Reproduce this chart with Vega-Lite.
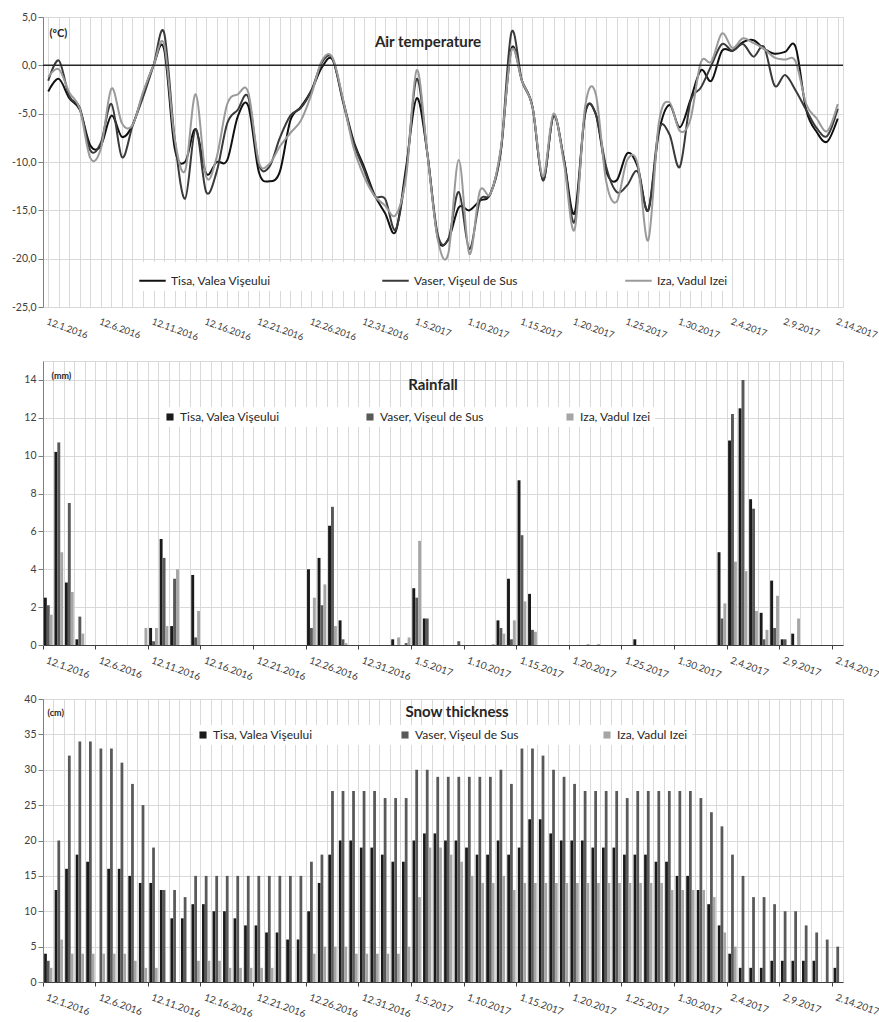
{
"$schema": "https://vega.github.io/schema/vega-lite/v6.json",
"background": "white",
"padding": {"left": 10, "top": 11, "right": 5, "bottom": 5},
"bounds": "flush",
"spacing": 54,
"params": [{"name": "lbl", "value": ["12.1.2016","12.6.2016","12.11.2016","12.16.2016","12.21.2016","12.26.2016","12.31.2016","1.5.2017","1.10.2017","1.15.2017","1.20.2017","1.25.2017","1.30.2017","2.4.2017","2.9.2017","2.14.2017"]}],
"config": {
  "font": "Lato",
  "view": {"stroke": "#d9d9d9"},
  "axis": {"labelFont": "Lato", "labelColor": "#404040", "labelFontSize": 10.5, "gridColor": "#d9d9d9", "domainColor": "#7f7f7f", "tickColor": "#7f7f7f", "titleFont": "Lato", "titleColor": "#262626"},
  "axisX": {"labelFontSize": 10, "labelDx": -6},
  "axisY": {"labelPadding": 2, "tickSize": 5},
  "legend": {"labelFont": "Lato", "labelFontSize": 12, "labelColor": "#262626"},
  "title": {"font": "Lato", "fontSize": 15, "fontWeight": "bold", "color": "#262626"}
},
"datasets": {
"temp": [
{"d":"12.1.2016","s":"Tisa","v":-2.7},{"d":"12.1.2016","s":"Vaser","v":-1.6},{"d":"12.1.2016","s":"Iza","v":-1.2},
{"d":"12.2.2016","s":"Tisa","v":-1.4},{"d":"12.2.2016","s":"Vaser","v":0.5},{"d":"12.2.2016","s":"Iza","v":-0.4},
{"d":"12.3.2016","s":"Tisa","v":-3.4},{"d":"12.3.2016","s":"Vaser","v":-3.2},{"d":"12.3.2016","s":"Iza","v":-2.8},
{"d":"12.4.2016","s":"Tisa","v":-4.6},{"d":"12.4.2016","s":"Vaser","v":-4.4},{"d":"12.4.2016","s":"Iza","v":-4.5},
{"d":"12.5.2016","s":"Tisa","v":-8.3},{"d":"12.5.2016","s":"Vaser","v":-8.8},{"d":"12.5.2016","s":"Iza","v":-9.6},
{"d":"12.6.2016","s":"Tisa","v":-8.3},{"d":"12.6.2016","s":"Vaser","v":-8.0},{"d":"12.6.2016","s":"Iza","v":-8.6},
{"d":"12.7.2016","s":"Tisa","v":-5.2},{"d":"12.7.2016","s":"Vaser","v":-4.0},{"d":"12.7.2016","s":"Iza","v":-2.4},
{"d":"12.8.2016","s":"Tisa","v":-7.4},{"d":"12.8.2016","s":"Vaser","v":-9.5},{"d":"12.8.2016","s":"Iza","v":-6.0},
{"d":"12.9.2016","s":"Tisa","v":-6.2},{"d":"12.9.2016","s":"Vaser","v":-6.3},{"d":"12.9.2016","s":"Iza","v":-6.2},
{"d":"12.10.2016","s":"Tisa","v":-3.0},{"d":"12.10.2016","s":"Vaser","v":-3.3},{"d":"12.10.2016","s":"Iza","v":-2.8},
{"d":"12.11.2016","s":"Tisa","v":0.0},{"d":"12.11.2016","s":"Vaser","v":0.0},{"d":"12.11.2016","s":"Iza","v":0.0},
{"d":"12.12.2016","s":"Tisa","v":1.7},{"d":"12.12.2016","s":"Vaser","v":3.4},{"d":"12.12.2016","s":"Iza","v":2.2},
{"d":"12.13.2016","s":"Tisa","v":-8.5},{"d":"12.13.2016","s":"Vaser","v":-7.5},{"d":"12.13.2016","s":"Iza","v":-7.5},
{"d":"12.14.2016","s":"Tisa","v":-10.0},{"d":"12.14.2016","s":"Vaser","v":-13.8},{"d":"12.14.2016","s":"Iza","v":-10.9},
{"d":"12.15.2016","s":"Tisa","v":-6.6},{"d":"12.15.2016","s":"Vaser","v":-6.6},{"d":"12.15.2016","s":"Iza","v":-3.0},
{"d":"12.16.2016","s":"Tisa","v":-11.2},{"d":"12.16.2016","s":"Vaser","v":-13.1},{"d":"12.16.2016","s":"Iza","v":-11.5},
{"d":"12.17.2016","s":"Tisa","v":-10.0},{"d":"12.17.2016","s":"Vaser","v":-11.0},{"d":"12.17.2016","s":"Iza","v":-9.5},
{"d":"12.18.2016","s":"Tisa","v":-9.8},{"d":"12.18.2016","s":"Vaser","v":-6.0},{"d":"12.18.2016","s":"Iza","v":-4.0},
{"d":"12.19.2016","s":"Tisa","v":-5.3},{"d":"12.19.2016","s":"Vaser","v":-4.6},{"d":"12.19.2016","s":"Iza","v":-3.0},
{"d":"12.20.2016","s":"Tisa","v":-4.2},{"d":"12.20.2016","s":"Vaser","v":-3.3},{"d":"12.20.2016","s":"Iza","v":-2.8},
{"d":"12.21.2016","s":"Tisa","v":-11.0},{"d":"12.21.2016","s":"Vaser","v":-10.2},{"d":"12.21.2016","s":"Iza","v":-10.0},
{"d":"12.22.2016","s":"Tisa","v":-12.0},{"d":"12.22.2016","s":"Vaser","v":-10.5},{"d":"12.22.2016","s":"Iza","v":-10.2},
{"d":"12.23.2016","s":"Tisa","v":-11.0},{"d":"12.23.2016","s":"Vaser","v":-7.5},{"d":"12.23.2016","s":"Iza","v":-8.4},
{"d":"12.24.2016","s":"Tisa","v":-5.7},{"d":"12.24.2016","s":"Vaser","v":-5.2},{"d":"12.24.2016","s":"Iza","v":-7.0},
{"d":"12.25.2016","s":"Tisa","v":-4.3},{"d":"12.25.2016","s":"Vaser","v":-4.4},{"d":"12.25.2016","s":"Iza","v":-5.7},
{"d":"12.26.2016","s":"Tisa","v":-2.6},{"d":"12.26.2016","s":"Vaser","v":-2.6},{"d":"12.26.2016","s":"Iza","v":-3.0},
{"d":"12.27.2016","s":"Tisa","v":-0.2},{"d":"12.27.2016","s":"Vaser","v":0.3},{"d":"12.27.2016","s":"Iza","v":0.5},
{"d":"12.28.2016","s":"Tisa","v":0.6},{"d":"12.28.2016","s":"Vaser","v":0.7},{"d":"12.28.2016","s":"Iza","v":0.8},
{"d":"12.29.2016","s":"Tisa","v":-3.6},{"d":"12.29.2016","s":"Vaser","v":-3.8},{"d":"12.29.2016","s":"Iza","v":-3.5},
{"d":"12.30.2016","s":"Tisa","v":-7.8},{"d":"12.30.2016","s":"Vaser","v":-8.0},{"d":"12.30.2016","s":"Iza","v":-8.5},
{"d":"12.31.2016","s":"Tisa","v":-10.5},{"d":"12.31.2016","s":"Vaser","v":-10.8},{"d":"12.31.2016","s":"Iza","v":-11.5},
{"d":"1.1.2017","s":"Tisa","v":-13.4},{"d":"1.1.2017","s":"Vaser","v":-13.5},{"d":"1.1.2017","s":"Iza","v":-13.5},
{"d":"1.2.2017","s":"Tisa","v":-15.3},{"d":"1.2.2017","s":"Vaser","v":-13.8},{"d":"1.2.2017","s":"Iza","v":-14.5},
{"d":"1.3.2017","s":"Tisa","v":-17.2},{"d":"1.3.2017","s":"Vaser","v":-17.0},{"d":"1.3.2017","s":"Iza","v":-15.5},
{"d":"1.4.2017","s":"Tisa","v":-10.5},{"d":"1.4.2017","s":"Vaser","v":-11.0},{"d":"1.4.2017","s":"Iza","v":-11.5},
{"d":"1.5.2017","s":"Tisa","v":-3.4},{"d":"1.5.2017","s":"Vaser","v":-1.4},{"d":"1.5.2017","s":"Iza","v":-0.5},
{"d":"1.6.2017","s":"Tisa","v":-9.0},{"d":"1.6.2017","s":"Vaser","v":-9.0},{"d":"1.6.2017","s":"Iza","v":-9.0},
{"d":"1.7.2017","s":"Tisa","v":-17.8},{"d":"1.7.2017","s":"Vaser","v":-17.5},{"d":"1.7.2017","s":"Iza","v":-18.0},
{"d":"1.8.2017","s":"Tisa","v":-18.0},{"d":"1.8.2017","s":"Vaser","v":-18.0},{"d":"1.8.2017","s":"Iza","v":-19.5},
{"d":"1.9.2017","s":"Tisa","v":-14.7},{"d":"1.9.2017","s":"Vaser","v":-13.1},{"d":"1.9.2017","s":"Iza","v":-9.8},
{"d":"1.10.2017","s":"Tisa","v":-15.0},{"d":"1.10.2017","s":"Vaser","v":-19.0},{"d":"1.10.2017","s":"Iza","v":-19.5},
{"d":"1.11.2017","s":"Tisa","v":-14.0},{"d":"1.11.2017","s":"Vaser","v":-14.0},{"d":"1.11.2017","s":"Iza","v":-13.0},
{"d":"1.12.2017","s":"Tisa","v":-13.3},{"d":"1.12.2017","s":"Vaser","v":-13.3},{"d":"1.12.2017","s":"Iza","v":-13.3},
{"d":"1.13.2017","s":"Tisa","v":-8.8},{"d":"1.13.2017","s":"Vaser","v":-8.8},{"d":"1.13.2017","s":"Iza","v":-8.5},
{"d":"1.14.2017","s":"Tisa","v":1.7},{"d":"1.14.2017","s":"Vaser","v":3.4},{"d":"1.14.2017","s":"Iza","v":1.5},
{"d":"1.15.2017","s":"Tisa","v":-1.6},{"d":"1.15.2017","s":"Vaser","v":-1.6},{"d":"1.15.2017","s":"Iza","v":-1.6},
{"d":"1.16.2017","s":"Tisa","v":-4.3},{"d":"1.16.2017","s":"Vaser","v":-4.3},{"d":"1.16.2017","s":"Iza","v":-4.3},
{"d":"1.17.2017","s":"Tisa","v":-11.9},{"d":"1.17.2017","s":"Vaser","v":-11.9},{"d":"1.17.2017","s":"Iza","v":-11.5},
{"d":"1.18.2017","s":"Tisa","v":-5.2},{"d":"1.18.2017","s":"Vaser","v":-5.2},{"d":"1.18.2017","s":"Iza","v":-5.0},
{"d":"1.19.2017","s":"Tisa","v":-9.8},{"d":"1.19.2017","s":"Vaser","v":-9.8},{"d":"1.19.2017","s":"Iza","v":-10.2},
{"d":"1.20.2017","s":"Tisa","v":-15.3},{"d":"1.20.2017","s":"Vaser","v":-16.2},{"d":"1.20.2017","s":"Iza","v":-17.0},
{"d":"1.21.2017","s":"Tisa","v":-5.0},{"d":"1.21.2017","s":"Vaser","v":-5.0},{"d":"1.21.2017","s":"Iza","v":-4.3},
{"d":"1.22.2017","s":"Tisa","v":-5.0},{"d":"1.22.2017","s":"Vaser","v":-5.0},{"d":"1.22.2017","s":"Iza","v":-2.9},
{"d":"1.23.2017","s":"Tisa","v":-10.9},{"d":"1.23.2017","s":"Vaser","v":-10.5},{"d":"1.23.2017","s":"Iza","v":-12.0},
{"d":"1.24.2017","s":"Tisa","v":-11.9},{"d":"1.24.2017","s":"Vaser","v":-13.1},{"d":"1.24.2017","s":"Iza","v":-14.1},
{"d":"1.25.2017","s":"Tisa","v":-9.1},{"d":"1.25.2017","s":"Vaser","v":-12.4},{"d":"1.25.2017","s":"Iza","v":-9.8},
{"d":"1.26.2017","s":"Tisa","v":-10.5},{"d":"1.26.2017","s":"Vaser","v":-11.0},{"d":"1.26.2017","s":"Iza","v":-10.2},
{"d":"1.27.2017","s":"Tisa","v":-15.0},{"d":"1.27.2017","s":"Vaser","v":-15.0},{"d":"1.27.2017","s":"Iza","v":-18.1},
{"d":"1.28.2017","s":"Tisa","v":-7.0},{"d":"1.28.2017","s":"Vaser","v":-6.7},{"d":"1.28.2017","s":"Iza","v":-6.0},
{"d":"1.29.2017","s":"Tisa","v":-4.1},{"d":"1.29.2017","s":"Vaser","v":-7.1},{"d":"1.29.2017","s":"Iza","v":-3.8},
{"d":"1.30.2017","s":"Tisa","v":-6.4},{"d":"1.30.2017","s":"Vaser","v":-10.5},{"d":"1.30.2017","s":"Iza","v":-6.8},
{"d":"1.31.2017","s":"Tisa","v":-3.6},{"d":"1.31.2017","s":"Vaser","v":-3.8},{"d":"1.31.2017","s":"Iza","v":-5.6},
{"d":"2.1.2017","s":"Tisa","v":-0.5},{"d":"2.1.2017","s":"Vaser","v":-2.3},{"d":"2.1.2017","s":"Iza","v":0.3},
{"d":"2.2.2017","s":"Tisa","v":-1.6},{"d":"2.2.2017","s":"Vaser","v":0.0},{"d":"2.2.2017","s":"Iza","v":0.4},
{"d":"2.3.2017","s":"Tisa","v":1.5},{"d":"2.3.2017","s":"Vaser","v":2.2},{"d":"2.3.2017","s":"Iza","v":3.3},
{"d":"2.4.2017","s":"Tisa","v":1.5},{"d":"2.4.2017","s":"Vaser","v":1.5},{"d":"2.4.2017","s":"Iza","v":1.8},
{"d":"2.5.2017","s":"Tisa","v":2.4},{"d":"2.5.2017","s":"Vaser","v":2.2},{"d":"2.5.2017","s":"Iza","v":2.8},
{"d":"2.6.2017","s":"Tisa","v":2.6},{"d":"2.6.2017","s":"Vaser","v":0.9},{"d":"2.6.2017","s":"Iza","v":2.3},
{"d":"2.7.2017","s":"Tisa","v":1.7},{"d":"2.7.2017","s":"Vaser","v":1.9},{"d":"2.7.2017","s":"Iza","v":1.7},
{"d":"2.8.2017","s":"Tisa","v":1.2},{"d":"2.8.2017","s":"Vaser","v":-2.1},{"d":"2.8.2017","s":"Iza","v":0.8},
{"d":"2.9.2017","s":"Tisa","v":1.4},{"d":"2.9.2017","s":"Vaser","v":-1.0},{"d":"2.9.2017","s":"Iza","v":0.6},
{"d":"2.10.2017","s":"Tisa","v":1.9},{"d":"2.10.2017","s":"Vaser","v":-2.6},{"d":"2.10.2017","s":"Iza","v":0.4},
{"d":"2.11.2017","s":"Tisa","v":-4.6},{"d":"2.11.2017","s":"Vaser","v":-4.6},{"d":"2.11.2017","s":"Iza","v":-4.0},
{"d":"2.12.2017","s":"Tisa","v":-6.9},{"d":"2.12.2017","s":"Vaser","v":-6.5},{"d":"2.12.2017","s":"Iza","v":-5.5},
{"d":"2.13.2017","s":"Tisa","v":-7.9},{"d":"2.13.2017","s":"Vaser","v":-7.3},{"d":"2.13.2017","s":"Iza","v":-6.8},
{"d":"2.14.2017","s":"Tisa","v":-5.5},{"d":"2.14.2017","s":"Vaser","v":-4.5},{"d":"2.14.2017","s":"Iza","v":-4.0}
],
"rain": [
{"d":"12.1.2016","s":"Tisa","v":2.5},{"d":"12.1.2016","s":"Vaser","v":2.1},{"d":"12.1.2016","s":"Iza","v":1.6},
{"d":"12.2.2016","s":"Tisa","v":10.2},{"d":"12.2.2016","s":"Vaser","v":10.7},{"d":"12.2.2016","s":"Iza","v":4.9},
{"d":"12.3.2016","s":"Tisa","v":3.3},{"d":"12.3.2016","s":"Vaser","v":7.5},{"d":"12.3.2016","s":"Iza","v":2.8},
{"d":"12.4.2016","s":"Tisa","v":0.3},{"d":"12.4.2016","s":"Vaser","v":1.5},{"d":"12.4.2016","s":"Iza","v":0.6},
{"d":"12.5.2016","s":"Tisa","v":0},{"d":"12.5.2016","s":"Vaser","v":0},{"d":"12.5.2016","s":"Iza","v":0},
{"d":"12.6.2016","s":"Tisa","v":0},{"d":"12.6.2016","s":"Vaser","v":0},{"d":"12.6.2016","s":"Iza","v":0},
{"d":"12.7.2016","s":"Tisa","v":0},{"d":"12.7.2016","s":"Vaser","v":0},{"d":"12.7.2016","s":"Iza","v":0},
{"d":"12.8.2016","s":"Tisa","v":0},{"d":"12.8.2016","s":"Vaser","v":0},{"d":"12.8.2016","s":"Iza","v":0},
{"d":"12.9.2016","s":"Tisa","v":0},{"d":"12.9.2016","s":"Vaser","v":0},{"d":"12.9.2016","s":"Iza","v":0},
{"d":"12.10.2016","s":"Tisa","v":0},{"d":"12.10.2016","s":"Vaser","v":0},{"d":"12.10.2016","s":"Iza","v":0.9},
{"d":"12.11.2016","s":"Tisa","v":0.9},{"d":"12.11.2016","s":"Vaser","v":0.2},{"d":"12.11.2016","s":"Iza","v":0.9},
{"d":"12.12.2016","s":"Tisa","v":5.6},{"d":"12.12.2016","s":"Vaser","v":4.6},{"d":"12.12.2016","s":"Iza","v":1.0},
{"d":"12.13.2016","s":"Tisa","v":1.0},{"d":"12.13.2016","s":"Vaser","v":3.5},{"d":"12.13.2016","s":"Iza","v":4.0},
{"d":"12.14.2016","s":"Tisa","v":0},{"d":"12.14.2016","s":"Vaser","v":0},{"d":"12.14.2016","s":"Iza","v":0},
{"d":"12.15.2016","s":"Tisa","v":3.7},{"d":"12.15.2016","s":"Vaser","v":0.4},{"d":"12.15.2016","s":"Iza","v":1.8},
{"d":"12.16.2016","s":"Tisa","v":0},{"d":"12.16.2016","s":"Vaser","v":0},{"d":"12.16.2016","s":"Iza","v":0},
{"d":"12.17.2016","s":"Tisa","v":0},{"d":"12.17.2016","s":"Vaser","v":0},{"d":"12.17.2016","s":"Iza","v":0},
{"d":"12.18.2016","s":"Tisa","v":0},{"d":"12.18.2016","s":"Vaser","v":0},{"d":"12.18.2016","s":"Iza","v":0},
{"d":"12.19.2016","s":"Tisa","v":0},{"d":"12.19.2016","s":"Vaser","v":0},{"d":"12.19.2016","s":"Iza","v":0},
{"d":"12.20.2016","s":"Tisa","v":0},{"d":"12.20.2016","s":"Vaser","v":0},{"d":"12.20.2016","s":"Iza","v":0},
{"d":"12.21.2016","s":"Tisa","v":0},{"d":"12.21.2016","s":"Vaser","v":0},{"d":"12.21.2016","s":"Iza","v":0},
{"d":"12.22.2016","s":"Tisa","v":0},{"d":"12.22.2016","s":"Vaser","v":0},{"d":"12.22.2016","s":"Iza","v":0},
{"d":"12.23.2016","s":"Tisa","v":0},{"d":"12.23.2016","s":"Vaser","v":0},{"d":"12.23.2016","s":"Iza","v":0},
{"d":"12.24.2016","s":"Tisa","v":0},{"d":"12.24.2016","s":"Vaser","v":0},{"d":"12.24.2016","s":"Iza","v":0},
{"d":"12.25.2016","s":"Tisa","v":0},{"d":"12.25.2016","s":"Vaser","v":0},{"d":"12.25.2016","s":"Iza","v":0},
{"d":"12.26.2016","s":"Tisa","v":4.0},{"d":"12.26.2016","s":"Vaser","v":0.9},{"d":"12.26.2016","s":"Iza","v":2.5},
{"d":"12.27.2016","s":"Tisa","v":4.6},{"d":"12.27.2016","s":"Vaser","v":2.1},{"d":"12.27.2016","s":"Iza","v":3.2},
{"d":"12.28.2016","s":"Tisa","v":6.3},{"d":"12.28.2016","s":"Vaser","v":7.3},{"d":"12.28.2016","s":"Iza","v":1.0},
{"d":"12.29.2016","s":"Tisa","v":1.3},{"d":"12.29.2016","s":"Vaser","v":0.3},{"d":"12.29.2016","s":"Iza","v":0.1},
{"d":"12.30.2016","s":"Tisa","v":0},{"d":"12.30.2016","s":"Vaser","v":0},{"d":"12.30.2016","s":"Iza","v":0},
{"d":"12.31.2016","s":"Tisa","v":0},{"d":"12.31.2016","s":"Vaser","v":0},{"d":"12.31.2016","s":"Iza","v":0},
{"d":"1.1.2017","s":"Tisa","v":0},{"d":"1.1.2017","s":"Vaser","v":0},{"d":"1.1.2017","s":"Iza","v":0},
{"d":"1.2.2017","s":"Tisa","v":0},{"d":"1.2.2017","s":"Vaser","v":0},{"d":"1.2.2017","s":"Iza","v":0},
{"d":"1.3.2017","s":"Tisa","v":0.3},{"d":"1.3.2017","s":"Vaser","v":0},{"d":"1.3.2017","s":"Iza","v":0.4},
{"d":"1.4.2017","s":"Tisa","v":0},{"d":"1.4.2017","s":"Vaser","v":0.1},{"d":"1.4.2017","s":"Iza","v":0.4},
{"d":"1.5.2017","s":"Tisa","v":3.0},{"d":"1.5.2017","s":"Vaser","v":2.5},{"d":"1.5.2017","s":"Iza","v":5.5},
{"d":"1.6.2017","s":"Tisa","v":1.4},{"d":"1.6.2017","s":"Vaser","v":1.4},{"d":"1.6.2017","s":"Iza","v":0},
{"d":"1.7.2017","s":"Tisa","v":0},{"d":"1.7.2017","s":"Vaser","v":0},{"d":"1.7.2017","s":"Iza","v":0},
{"d":"1.8.2017","s":"Tisa","v":0},{"d":"1.8.2017","s":"Vaser","v":0},{"d":"1.8.2017","s":"Iza","v":0},
{"d":"1.9.2017","s":"Tisa","v":0},{"d":"1.9.2017","s":"Vaser","v":0.2},{"d":"1.9.2017","s":"Iza","v":0},
{"d":"1.10.2017","s":"Tisa","v":0},{"d":"1.10.2017","s":"Vaser","v":0},{"d":"1.10.2017","s":"Iza","v":0},
{"d":"1.11.2017","s":"Tisa","v":0},{"d":"1.11.2017","s":"Vaser","v":0},{"d":"1.11.2017","s":"Iza","v":0},
{"d":"1.12.2017","s":"Tisa","v":0},{"d":"1.12.2017","s":"Vaser","v":0},{"d":"1.12.2017","s":"Iza","v":0.05},
{"d":"1.13.2017","s":"Tisa","v":1.3},{"d":"1.13.2017","s":"Vaser","v":0.9},{"d":"1.13.2017","s":"Iza","v":0.6},
{"d":"1.14.2017","s":"Tisa","v":3.5},{"d":"1.14.2017","s":"Vaser","v":0.3},{"d":"1.14.2017","s":"Iza","v":1.3},
{"d":"1.15.2017","s":"Tisa","v":8.7},{"d":"1.15.2017","s":"Vaser","v":5.8},{"d":"1.15.2017","s":"Iza","v":2.3},
{"d":"1.16.2017","s":"Tisa","v":2.7},{"d":"1.16.2017","s":"Vaser","v":0.8},{"d":"1.16.2017","s":"Iza","v":0.7},
{"d":"1.17.2017","s":"Tisa","v":0},{"d":"1.17.2017","s":"Vaser","v":0},{"d":"1.17.2017","s":"Iza","v":0},
{"d":"1.18.2017","s":"Tisa","v":0},{"d":"1.18.2017","s":"Vaser","v":0},{"d":"1.18.2017","s":"Iza","v":0},
{"d":"1.19.2017","s":"Tisa","v":0},{"d":"1.19.2017","s":"Vaser","v":0},{"d":"1.19.2017","s":"Iza","v":0},
{"d":"1.20.2017","s":"Tisa","v":0},{"d":"1.20.2017","s":"Vaser","v":0},{"d":"1.20.2017","s":"Iza","v":0},
{"d":"1.21.2017","s":"Tisa","v":0},{"d":"1.21.2017","s":"Vaser","v":0},{"d":"1.21.2017","s":"Iza","v":0.05},
{"d":"1.22.2017","s":"Tisa","v":0},{"d":"1.22.2017","s":"Vaser","v":0},{"d":"1.22.2017","s":"Iza","v":0.05},
{"d":"1.23.2017","s":"Tisa","v":0},{"d":"1.23.2017","s":"Vaser","v":0},{"d":"1.23.2017","s":"Iza","v":0},
{"d":"1.24.2017","s":"Tisa","v":0},{"d":"1.24.2017","s":"Vaser","v":0},{"d":"1.24.2017","s":"Iza","v":0},
{"d":"1.25.2017","s":"Tisa","v":0},{"d":"1.25.2017","s":"Vaser","v":0},{"d":"1.25.2017","s":"Iza","v":0},
{"d":"1.26.2017","s":"Tisa","v":0.3},{"d":"1.26.2017","s":"Vaser","v":0},{"d":"1.26.2017","s":"Iza","v":0},
{"d":"1.27.2017","s":"Tisa","v":0},{"d":"1.27.2017","s":"Vaser","v":0},{"d":"1.27.2017","s":"Iza","v":0},
{"d":"1.28.2017","s":"Tisa","v":0},{"d":"1.28.2017","s":"Vaser","v":0},{"d":"1.28.2017","s":"Iza","v":0},
{"d":"1.29.2017","s":"Tisa","v":0},{"d":"1.29.2017","s":"Vaser","v":0},{"d":"1.29.2017","s":"Iza","v":0},
{"d":"1.30.2017","s":"Tisa","v":0},{"d":"1.30.2017","s":"Vaser","v":0},{"d":"1.30.2017","s":"Iza","v":0},
{"d":"1.31.2017","s":"Tisa","v":0},{"d":"1.31.2017","s":"Vaser","v":0},{"d":"1.31.2017","s":"Iza","v":0},
{"d":"2.1.2017","s":"Tisa","v":0},{"d":"2.1.2017","s":"Vaser","v":0},{"d":"2.1.2017","s":"Iza","v":0},
{"d":"2.2.2017","s":"Tisa","v":0},{"d":"2.2.2017","s":"Vaser","v":0},{"d":"2.2.2017","s":"Iza","v":0},
{"d":"2.3.2017","s":"Tisa","v":4.9},{"d":"2.3.2017","s":"Vaser","v":1.4},{"d":"2.3.2017","s":"Iza","v":2.2},
{"d":"2.4.2017","s":"Tisa","v":10.8},{"d":"2.4.2017","s":"Vaser","v":12.2},{"d":"2.4.2017","s":"Iza","v":4.4},
{"d":"2.5.2017","s":"Tisa","v":12.5},{"d":"2.5.2017","s":"Vaser","v":14.0},{"d":"2.5.2017","s":"Iza","v":3.9},
{"d":"2.6.2017","s":"Tisa","v":7.7},{"d":"2.6.2017","s":"Vaser","v":7.2},{"d":"2.6.2017","s":"Iza","v":1.8},
{"d":"2.7.2017","s":"Tisa","v":1.7},{"d":"2.7.2017","s":"Vaser","v":0.3},{"d":"2.7.2017","s":"Iza","v":0.8},
{"d":"2.8.2017","s":"Tisa","v":3.4},{"d":"2.8.2017","s":"Vaser","v":0.9},{"d":"2.8.2017","s":"Iza","v":2.6},
{"d":"2.9.2017","s":"Tisa","v":0.3},{"d":"2.9.2017","s":"Vaser","v":0.3},{"d":"2.9.2017","s":"Iza","v":0},
{"d":"2.10.2017","s":"Tisa","v":0.6},{"d":"2.10.2017","s":"Vaser","v":0},{"d":"2.10.2017","s":"Iza","v":1.4},
{"d":"2.11.2017","s":"Tisa","v":0},{"d":"2.11.2017","s":"Vaser","v":0},{"d":"2.11.2017","s":"Iza","v":0},
{"d":"2.12.2017","s":"Tisa","v":0},{"d":"2.12.2017","s":"Vaser","v":0},{"d":"2.12.2017","s":"Iza","v":0},
{"d":"2.13.2017","s":"Tisa","v":0},{"d":"2.13.2017","s":"Vaser","v":0},{"d":"2.13.2017","s":"Iza","v":0},
{"d":"2.14.2017","s":"Tisa","v":0},{"d":"2.14.2017","s":"Vaser","v":0},{"d":"2.14.2017","s":"Iza","v":0}
],
"snow": [
{"d":"12.1.2016","s":"Tisa","v":4},{"d":"12.1.2016","s":"Vaser","v":3},{"d":"12.1.2016","s":"Iza","v":2},
{"d":"12.2.2016","s":"Tisa","v":13},{"d":"12.2.2016","s":"Vaser","v":20},{"d":"12.2.2016","s":"Iza","v":6},
{"d":"12.3.2016","s":"Tisa","v":16},{"d":"12.3.2016","s":"Vaser","v":32},{"d":"12.3.2016","s":"Iza","v":4},
{"d":"12.4.2016","s":"Tisa","v":18},{"d":"12.4.2016","s":"Vaser","v":34},{"d":"12.4.2016","s":"Iza","v":4},
{"d":"12.5.2016","s":"Tisa","v":17},{"d":"12.5.2016","s":"Vaser","v":34},{"d":"12.5.2016","s":"Iza","v":4},
{"d":"12.6.2016","s":"Tisa","v":0},{"d":"12.6.2016","s":"Vaser","v":33},{"d":"12.6.2016","s":"Iza","v":4},
{"d":"12.7.2016","s":"Tisa","v":16},{"d":"12.7.2016","s":"Vaser","v":33},{"d":"12.7.2016","s":"Iza","v":4},
{"d":"12.8.2016","s":"Tisa","v":16},{"d":"12.8.2016","s":"Vaser","v":31},{"d":"12.8.2016","s":"Iza","v":4},
{"d":"12.9.2016","s":"Tisa","v":15},{"d":"12.9.2016","s":"Vaser","v":28},{"d":"12.9.2016","s":"Iza","v":3},
{"d":"12.10.2016","s":"Tisa","v":14},{"d":"12.10.2016","s":"Vaser","v":25},{"d":"12.10.2016","s":"Iza","v":2},
{"d":"12.11.2016","s":"Tisa","v":14},{"d":"12.11.2016","s":"Vaser","v":19},{"d":"12.11.2016","s":"Iza","v":2},
{"d":"12.12.2016","s":"Tisa","v":13},{"d":"12.12.2016","s":"Vaser","v":13},{"d":"12.12.2016","s":"Iza","v":0},
{"d":"12.13.2016","s":"Tisa","v":9},{"d":"12.13.2016","s":"Vaser","v":13},{"d":"12.13.2016","s":"Iza","v":0},
{"d":"12.14.2016","s":"Tisa","v":9},{"d":"12.14.2016","s":"Vaser","v":12},{"d":"12.14.2016","s":"Iza","v":0},
{"d":"12.15.2016","s":"Tisa","v":11},{"d":"12.15.2016","s":"Vaser","v":15},{"d":"12.15.2016","s":"Iza","v":3},
{"d":"12.16.2016","s":"Tisa","v":11},{"d":"12.16.2016","s":"Vaser","v":15},{"d":"12.16.2016","s":"Iza","v":3},
{"d":"12.17.2016","s":"Tisa","v":10},{"d":"12.17.2016","s":"Vaser","v":15},{"d":"12.17.2016","s":"Iza","v":3},
{"d":"12.18.2016","s":"Tisa","v":10},{"d":"12.18.2016","s":"Vaser","v":15},{"d":"12.18.2016","s":"Iza","v":2},
{"d":"12.19.2016","s":"Tisa","v":9},{"d":"12.19.2016","s":"Vaser","v":15},{"d":"12.19.2016","s":"Iza","v":2},
{"d":"12.20.2016","s":"Tisa","v":8},{"d":"12.20.2016","s":"Vaser","v":15},{"d":"12.20.2016","s":"Iza","v":2},
{"d":"12.21.2016","s":"Tisa","v":8},{"d":"12.21.2016","s":"Vaser","v":15},{"d":"12.21.2016","s":"Iza","v":2},
{"d":"12.22.2016","s":"Tisa","v":7},{"d":"12.22.2016","s":"Vaser","v":15},{"d":"12.22.2016","s":"Iza","v":2},
{"d":"12.23.2016","s":"Tisa","v":7},{"d":"12.23.2016","s":"Vaser","v":15},{"d":"12.23.2016","s":"Iza","v":0},
{"d":"12.24.2016","s":"Tisa","v":6},{"d":"12.24.2016","s":"Vaser","v":15},{"d":"12.24.2016","s":"Iza","v":0},
{"d":"12.25.2016","s":"Tisa","v":6},{"d":"12.25.2016","s":"Vaser","v":15},{"d":"12.25.2016","s":"Iza","v":0},
{"d":"12.26.2016","s":"Tisa","v":10},{"d":"12.26.2016","s":"Vaser","v":17},{"d":"12.26.2016","s":"Iza","v":4},
{"d":"12.27.2016","s":"Tisa","v":14},{"d":"12.27.2016","s":"Vaser","v":18},{"d":"12.27.2016","s":"Iza","v":5},
{"d":"12.28.2016","s":"Tisa","v":18},{"d":"12.28.2016","s":"Vaser","v":27},{"d":"12.28.2016","s":"Iza","v":5},
{"d":"12.29.2016","s":"Tisa","v":20},{"d":"12.29.2016","s":"Vaser","v":27},{"d":"12.29.2016","s":"Iza","v":5},
{"d":"12.30.2016","s":"Tisa","v":20},{"d":"12.30.2016","s":"Vaser","v":27},{"d":"12.30.2016","s":"Iza","v":4},
{"d":"12.31.2016","s":"Tisa","v":19},{"d":"12.31.2016","s":"Vaser","v":27},{"d":"12.31.2016","s":"Iza","v":4},
{"d":"1.1.2017","s":"Tisa","v":19},{"d":"1.1.2017","s":"Vaser","v":27},{"d":"1.1.2017","s":"Iza","v":4},
{"d":"1.2.2017","s":"Tisa","v":18},{"d":"1.2.2017","s":"Vaser","v":26},{"d":"1.2.2017","s":"Iza","v":4},
{"d":"1.3.2017","s":"Tisa","v":17},{"d":"1.3.2017","s":"Vaser","v":26},{"d":"1.3.2017","s":"Iza","v":4},
{"d":"1.4.2017","s":"Tisa","v":17},{"d":"1.4.2017","s":"Vaser","v":26},{"d":"1.4.2017","s":"Iza","v":5},
{"d":"1.5.2017","s":"Tisa","v":20},{"d":"1.5.2017","s":"Vaser","v":30},{"d":"1.5.2017","s":"Iza","v":12},
{"d":"1.6.2017","s":"Tisa","v":21},{"d":"1.6.2017","s":"Vaser","v":30},{"d":"1.6.2017","s":"Iza","v":19},
{"d":"1.7.2017","s":"Tisa","v":21},{"d":"1.7.2017","s":"Vaser","v":29},{"d":"1.7.2017","s":"Iza","v":19},
{"d":"1.8.2017","s":"Tisa","v":20},{"d":"1.8.2017","s":"Vaser","v":29},{"d":"1.8.2017","s":"Iza","v":18},
{"d":"1.9.2017","s":"Tisa","v":20},{"d":"1.9.2017","s":"Vaser","v":29},{"d":"1.9.2017","s":"Iza","v":17},
{"d":"1.10.2017","s":"Tisa","v":19},{"d":"1.10.2017","s":"Vaser","v":29},{"d":"1.10.2017","s":"Iza","v":15},
{"d":"1.11.2017","s":"Tisa","v":18},{"d":"1.11.2017","s":"Vaser","v":29},{"d":"1.11.2017","s":"Iza","v":14},
{"d":"1.12.2017","s":"Tisa","v":18},{"d":"1.12.2017","s":"Vaser","v":29},{"d":"1.12.2017","s":"Iza","v":14},
{"d":"1.13.2017","s":"Tisa","v":20},{"d":"1.13.2017","s":"Vaser","v":30},{"d":"1.13.2017","s":"Iza","v":15},
{"d":"1.14.2017","s":"Tisa","v":18},{"d":"1.14.2017","s":"Vaser","v":28},{"d":"1.14.2017","s":"Iza","v":13},
{"d":"1.15.2017","s":"Tisa","v":19},{"d":"1.15.2017","s":"Vaser","v":33},{"d":"1.15.2017","s":"Iza","v":14},
{"d":"1.16.2017","s":"Tisa","v":23},{"d":"1.16.2017","s":"Vaser","v":33},{"d":"1.16.2017","s":"Iza","v":14},
{"d":"1.17.2017","s":"Tisa","v":23},{"d":"1.17.2017","s":"Vaser","v":32},{"d":"1.17.2017","s":"Iza","v":14},
{"d":"1.18.2017","s":"Tisa","v":21},{"d":"1.18.2017","s":"Vaser","v":30},{"d":"1.18.2017","s":"Iza","v":14},
{"d":"1.19.2017","s":"Tisa","v":20},{"d":"1.19.2017","s":"Vaser","v":29},{"d":"1.19.2017","s":"Iza","v":14},
{"d":"1.20.2017","s":"Tisa","v":20},{"d":"1.20.2017","s":"Vaser","v":28},{"d":"1.20.2017","s":"Iza","v":14},
{"d":"1.21.2017","s":"Tisa","v":20},{"d":"1.21.2017","s":"Vaser","v":27},{"d":"1.21.2017","s":"Iza","v":14},
{"d":"1.22.2017","s":"Tisa","v":19},{"d":"1.22.2017","s":"Vaser","v":27},{"d":"1.22.2017","s":"Iza","v":14},
{"d":"1.23.2017","s":"Tisa","v":19},{"d":"1.23.2017","s":"Vaser","v":27},{"d":"1.23.2017","s":"Iza","v":14},
{"d":"1.24.2017","s":"Tisa","v":19},{"d":"1.24.2017","s":"Vaser","v":27},{"d":"1.24.2017","s":"Iza","v":14},
{"d":"1.25.2017","s":"Tisa","v":18},{"d":"1.25.2017","s":"Vaser","v":26},{"d":"1.25.2017","s":"Iza","v":14},
{"d":"1.26.2017","s":"Tisa","v":18},{"d":"1.26.2017","s":"Vaser","v":27},{"d":"1.26.2017","s":"Iza","v":14},
{"d":"1.27.2017","s":"Tisa","v":18},{"d":"1.27.2017","s":"Vaser","v":27},{"d":"1.27.2017","s":"Iza","v":14},
{"d":"1.28.2017","s":"Tisa","v":17},{"d":"1.28.2017","s":"Vaser","v":27},{"d":"1.28.2017","s":"Iza","v":14},
{"d":"1.29.2017","s":"Tisa","v":17},{"d":"1.29.2017","s":"Vaser","v":27},{"d":"1.29.2017","s":"Iza","v":13},
{"d":"1.30.2017","s":"Tisa","v":15},{"d":"1.30.2017","s":"Vaser","v":27},{"d":"1.30.2017","s":"Iza","v":13},
{"d":"1.31.2017","s":"Tisa","v":15},{"d":"1.31.2017","s":"Vaser","v":27},{"d":"1.31.2017","s":"Iza","v":13},
{"d":"2.1.2017","s":"Tisa","v":13},{"d":"2.1.2017","s":"Vaser","v":26},{"d":"2.1.2017","s":"Iza","v":13},
{"d":"2.2.2017","s":"Tisa","v":11},{"d":"2.2.2017","s":"Vaser","v":24},{"d":"2.2.2017","s":"Iza","v":12},
{"d":"2.3.2017","s":"Tisa","v":8},{"d":"2.3.2017","s":"Vaser","v":22},{"d":"2.3.2017","s":"Iza","v":7},
{"d":"2.4.2017","s":"Tisa","v":4},{"d":"2.4.2017","s":"Vaser","v":18},{"d":"2.4.2017","s":"Iza","v":5},
{"d":"2.5.2017","s":"Tisa","v":2},{"d":"2.5.2017","s":"Vaser","v":15},{"d":"2.5.2017","s":"Iza","v":0},
{"d":"2.6.2017","s":"Tisa","v":2},{"d":"2.6.2017","s":"Vaser","v":12},{"d":"2.6.2017","s":"Iza","v":0},
{"d":"2.7.2017","s":"Tisa","v":2},{"d":"2.7.2017","s":"Vaser","v":12},{"d":"2.7.2017","s":"Iza","v":0},
{"d":"2.8.2017","s":"Tisa","v":3},{"d":"2.8.2017","s":"Vaser","v":11},{"d":"2.8.2017","s":"Iza","v":0},
{"d":"2.9.2017","s":"Tisa","v":3},{"d":"2.9.2017","s":"Vaser","v":10},{"d":"2.9.2017","s":"Iza","v":0},
{"d":"2.10.2017","s":"Tisa","v":3},{"d":"2.10.2017","s":"Vaser","v":10},{"d":"2.10.2017","s":"Iza","v":0},
{"d":"2.11.2017","s":"Tisa","v":3},{"d":"2.11.2017","s":"Vaser","v":8},{"d":"2.11.2017","s":"Iza","v":0},
{"d":"2.12.2017","s":"Tisa","v":3},{"d":"2.12.2017","s":"Vaser","v":7},{"d":"2.12.2017","s":"Iza","v":0},
{"d":"2.13.2017","s":"Tisa","v":0},{"d":"2.13.2017","s":"Vaser","v":6},{"d":"2.13.2017","s":"Iza","v":0},
{"d":"2.14.2017","s":"Tisa","v":2},{"d":"2.14.2017","s":"Vaser","v":5},{"d":"2.14.2017","s":"Iza","v":0}
]
},
"vconcat": [
{
  "width": 800, "height": 290,
  "title": {"text": "Air temperature", "offset": -38, "dx": -15},
  "layer": [
    {
      "data": {"name": "temp"},
      "mark": {"type": "line", "interpolate": "cardinal", "strokeWidth": 2},
      "encoding": {
        "x": {"field": "d", "type": "ordinal", "sort": null, "bandPosition": 0,
              "scale": {"paddingInner": 0, "paddingOuter": 0},
              "axis": {"title": null, "bandPosition": 0, "labelAngle": 20, "labelAlign": "left", "labelBaseline": "top", "labelPadding": 9, "labelDx": -10, "labelFontSize": 9.5, "ticks": false, "domain": false, "grid": true, "labelOverlap": false, "labelExpr": "indexof(lbl, datum.value) >= 0 ? datum.value : ''"}},
        "y": {"field": "v", "type": "quantitative", "scale": {"domain": [-25, 5], "nice": false},
              "axis": {"title": "(ºC)", "titleAngle": 0, "titleX": 6, "titleY": 16, "titleAlign": "left", "titleBaseline": "middle", "titleFontSize": 11, "titleFontWeight": "bold", "values": [-25, -20, -15, -10, -5, 0, 5], "grid": true, "labelExpr": "replace((datum.value < 0 ? '-' : '') + format(abs(datum.value), '.1f'), '.', ',')"}},
        "color": {"field": "s", "type": "nominal",
                  "scale": {"domain": ["Tisa", "Vaser", "Iza"], "range": ["#111111", "#3a3a3a", "#9a9a9a"]},
                  "legend": {"title": null, "orient": "none", "legendX": 91, "legendY": 245, "direction": "horizontal", "columns": 3, "gridAlign": "all", "columnPadding": 103, "symbolType": "stroke", "symbolSize": 700, "symbolStrokeWidth": 2, "fillColor": "white", "padding": 4,
                             "labelExpr": "datum.label == 'Tisa' ? 'Tisa, Valea Vişeului' : datum.label == 'Vaser' ? 'Vaser, Vişeul de Sus' : 'Iza, Vadul Izei'"}}
      }
    },
    {
      "data": {"values": [{}]},
      "mark": {"type": "rule", "color": "#262626", "strokeWidth": 1.5},
      "encoding": {"y": {"datum": 0}}
    }
  ]
},
{
  "width": 800, "height": 284,
  "data": {"name": "rain"},
  "title": {"text": "Rainfall", "offset": -32, "dx": -10},
  "mark": {"type": "bar"},
  "encoding": {
    "x": {"field": "d", "type": "ordinal", "sort": null,
          "scale": {"paddingInner": 0, "paddingOuter": 0},
          "axis": {"title": null, "bandPosition": 0, "labelAngle": 20, "labelAlign": "left", "labelBaseline": "top", "labelPadding": 6, "tickSize": 4, "tickColor": "#404040", "domainColor": "#404040", "tickOpacity": {"condition": {"test": "indexof(lbl, datum.value) >= 0", "value": 1}, "value": 0}, "grid": true, "labelOverlap": false, "labelExpr": "indexof(lbl, datum.value) >= 0 ? datum.value : ''"}},
    "xOffset": {"field": "s", "type": "nominal", "sort": ["Tisa", "Vaser", "Iza"], "scale": {"paddingOuter": 0.3, "paddingInner": 0}},
    "y": {"field": "v", "type": "quantitative", "scale": {"domain": [0, 15], "nice": false},
          "axis": {"title": "(mm)", "titleAngle": 0, "titleX": 8, "titleY": 14, "titleAlign": "left", "titleBaseline": "middle", "titleFontSize": 9, "titleFontWeight": "bold", "values": [0, 2, 4, 6, 8, 10, 12, 14], "grid": true}},
    "color": {"field": "s", "type": "nominal",
              "scale": {"domain": ["Tisa", "Vaser", "Iza"], "range": ["#1a1a1a", "#595959", "#a6a6a6"]},
              "legend": {"title": null, "orient": "none", "legendX": 117, "legendY": 46, "direction": "horizontal", "columns": 3, "gridAlign": "all", "columnPadding": 80, "symbolType": "square", "symbolSize": 50, "symbolStrokeWidth": 0, "fillColor": "white", "padding": 4,
                         "labelExpr": "datum.label == 'Tisa' ? 'Tisa, Valea Vişeului' : datum.label == 'Vaser' ? 'Vaser, Vişeul de Sus' : 'Iza, Vadul Izei'"}}
  }
},
{
  "width": 800, "height": 283,
  "data": {"name": "snow"},
  "title": {"text": "Snow thickness", "offset": -26, "dx": 14},
  "mark": {"type": "bar"},
  "encoding": {
    "x": {"field": "d", "type": "ordinal", "sort": null,
          "scale": {"paddingInner": 0, "paddingOuter": 0},
          "axis": {"title": null, "bandPosition": 0, "labelAngle": 20, "labelAlign": "left", "labelBaseline": "top", "labelPadding": 6, "tickSize": 4, "tickColor": "#404040", "domainColor": "#404040", "tickOpacity": {"condition": {"test": "indexof(lbl, datum.value) >= 0", "value": 1}, "value": 0}, "grid": true, "labelOverlap": false, "labelExpr": "indexof(lbl, datum.value) >= 0 ? datum.value : ''"}},
    "xOffset": {"field": "s", "type": "nominal", "sort": ["Tisa", "Vaser", "Iza"], "scale": {"paddingOuter": 0.4, "paddingInner": 0}},
    "y": {"field": "v", "type": "quantitative", "scale": {"domain": [0, 40], "nice": false},
          "axis": {"title": "(cm)", "titleAngle": 0, "titleX": 4, "titleY": 13, "titleAlign": "left", "titleBaseline": "middle", "titleFontSize": 9, "titleFontWeight": "bold", "values": [0, 5, 10, 15, 20, 25, 30, 35, 40], "grid": true}},
    "color": {"field": "s", "type": "nominal",
              "scale": {"domain": ["Tisa", "Vaser", "Iza"], "range": ["#1a1a1a", "#595959", "#a6a6a6"]},
              "legend": {"title": null, "orient": "none", "legendX": 150, "legendY": 26, "direction": "horizontal", "columns": 3, "gridAlign": "all", "columnPadding": 82, "symbolType": "square", "symbolSize": 50, "symbolStrokeWidth": 0, "fillColor": "white", "padding": 4,
                         "labelExpr": "datum.label == 'Tisa' ? 'Tisa, Valea Vişeului' : datum.label == 'Vaser' ? 'Vaser, Vişeul de Sus' : 'Iza, Vadul Izei'"}}
  }
}
],
"resolve": {"scale": {"x": "independent", "y": "independent", "color": "independent", "xOffset": "independent"}, "legend": {"color": "independent"}}
}
